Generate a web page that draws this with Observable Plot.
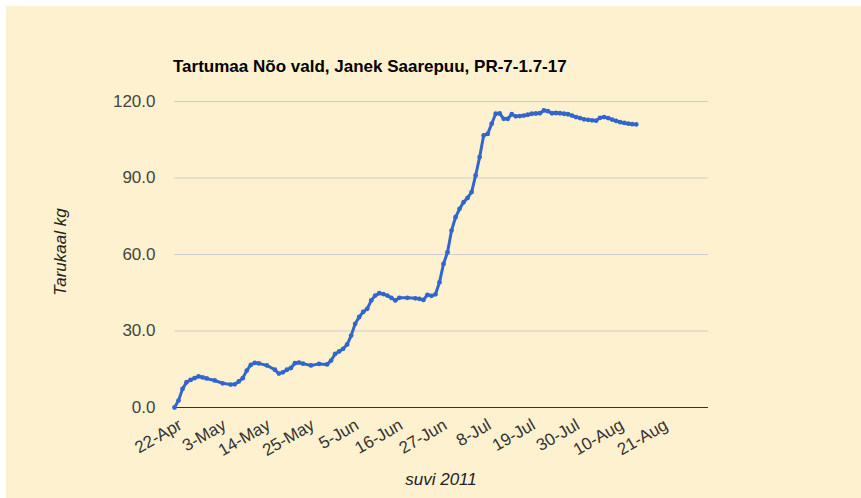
<!DOCTYPE html>
<html><head><meta charset="utf-8">
<script src="https://cdn.jsdelivr.net/npm/d3@7"></script>
<script src="https://cdn.jsdelivr.net/npm/@observablehq/plot@0.6"></script>
<style>
html,body{margin:0;padding:0;background:#fff;}
#chart{position:absolute;left:6px;top:6px;width:855px;height:492px;background:#fef1cf;font-family:"Liberation Sans",Arial,sans-serif;overflow:hidden}
.t{position:absolute;white-space:nowrap;line-height:17px}
#title{left:167px;top:52px;font-size:17px;font-weight:bold;color:#000}
#xlab{left:435px;top:465px;font-size:17px;font-style:italic;color:#222;transform:translateX(-50%)}
#ylab{left:54px;top:246px;font-size:17px;font-style:italic;color:#222;transform:translate(-50%,-50%) rotate(-90deg)}
#plot{position:absolute;left:0;top:0}
</style></head><body>
<div id="chart">
  <div id="plot"></div>
  <div class="t" id="title"></div>
  <div class="t" id="xlab"></div>
  <div class="t" id="ylab"></div>
</div>
<script>
const titleText = "Tartumaa Nõo vald, Janek Saarepuu, PR-7-1.7-17";
const xTitle = "suvi 2011";
const yTitle = "Tarukaal kg";

const dates = ["2011-04-22","2011-04-23","2011-04-24","2011-04-25","2011-04-26","2011-04-27","2011-04-28","2011-04-29","2011-04-30","2011-05-02","2011-05-04","2011-05-06","2011-05-07","2011-05-08","2011-05-09","2011-05-10","2011-05-11","2011-05-12","2011-05-13","2011-05-15","2011-05-17","2011-05-18","2011-05-19","2011-05-20","2011-05-21","2011-05-22","2011-05-23","2011-05-24","2011-05-26","2011-05-28","2011-05-30","2011-05-31","2011-06-01","2011-06-02","2011-06-03","2011-06-04","2011-06-05","2011-06-06","2011-06-07","2011-06-08","2011-06-09","2011-06-10","2011-06-11","2011-06-12","2011-06-13","2011-06-14","2011-06-15","2011-06-16","2011-06-17","2011-06-19","2011-06-21","2011-06-22","2011-06-23","2011-06-24","2011-06-25","2011-06-26","2011-06-27","2011-06-28","2011-06-29","2011-06-30","2011-07-01","2011-07-02","2011-07-03","2011-07-04","2011-07-05","2011-07-06","2011-07-07","2011-07-08","2011-07-09","2011-07-10","2011-07-11","2011-07-12","2011-07-13","2011-07-14","2011-07-15","2011-07-16","2011-07-17","2011-07-18","2011-07-19","2011-07-20","2011-07-21","2011-07-22","2011-07-23","2011-07-24","2011-07-25","2011-07-26","2011-07-27","2011-07-28","2011-07-29","2011-07-30","2011-07-31","2011-08-01","2011-08-02","2011-08-03","2011-08-04","2011-08-05","2011-08-06","2011-08-07","2011-08-08","2011-08-09","2011-08-10","2011-08-11","2011-08-12","2011-08-13","2011-08-14","2011-08-15"];
const weights = [0,2.7,7.3,9.9,10.8,11.5,12.2,11.8,11.4,10.6,9.5,9.0,9.1,10.2,11.5,14.5,16.7,17.5,17.3,16.5,14.8,13.3,13.8,14.8,15.5,17.4,17.6,17.2,16.5,17.1,16.9,18.4,21.0,22.0,23.0,24.7,28.2,32.8,35.5,37.5,38.7,42.0,43.9,44.8,44.5,43.9,43.0,42.0,43.0,43.0,42.8,42.6,42.2,44.2,43.8,44.4,49.1,56.3,60.9,69.4,74.6,77.9,80.5,82.2,84.5,91.0,98.2,106.7,107.3,111.3,115.2,115.3,113.2,113.2,115.0,114.2,114.3,114.5,114.8,115.2,115.3,115.4,116.5,116.2,115.4,115.5,115.4,115.2,115.0,114.5,113.9,113.5,113.0,112.8,112.6,112.5,113.6,113.9,113.5,112.9,112.4,111.9,111.6,111.3,111.1,111.0];

const xTickDates = ["2011-04-22","2011-05-03","2011-05-14","2011-05-25","2011-06-05","2011-06-16","2011-06-27","2011-07-08","2011-07-19","2011-07-30","2011-08-10","2011-08-21"];
const yTicks = [0,30,60,90,120];
const xDomain = ["2011-04-22","2011-09-02"];

const data = dates.map((d,i)=>({date:new Date(d+"T00:00Z"), w:weights[i]}));
const xt = xTickDates.map(d=>new Date(d+"T00:00Z"));
const fmtX = d3.utcFormat("%-d-%b");

document.getElementById("title").textContent = titleText;
document.getElementById("xlab").textContent = xTitle;
document.getElementById("ylab").textContent = yTitle;

const chart = Plot.plot({
  width: 855, height: 492,
  marginLeft: 168, marginRight: 153, marginTop: 95, marginBottom: 91,
  style: {background: "transparent", fontFamily: "'Liberation Sans', Arial, sans-serif", fontSize: "17px", overflow: "visible"},
  x: {type: "utc", domain: xDomain.map(d=>new Date(d+"T00:00Z"))},
  y: {domain: [0,120]},
  marks: [
    Plot.gridY(yTicks, {stroke: "#cccccc", strokeOpacity: 1}),
    Plot.ruleY([0], {stroke: "#333333", strokeWidth: 1}),
    Plot.axisY(yTicks, {tickSize: 0, tickPadding: 19, tickFormat: d3.format(".1f"), fill: "#444", fontSize: 17, label: null}),
    Plot.axisX(xt, {tickSize: 0, tickPadding: 16, tickRotate: -30, tickFormat: fmtX, fill: "#333", fontSize: 17, dx: 6, label: null}),
    Plot.line(data, {x: "date", y: "w", stroke: "#3366cc", strokeWidth: 3}),
    Plot.dot(data, {x: "date", y: "w", r: 2.4, fill: "#3366cc"})
  ]
});
document.getElementById("plot").appendChild(chart);
</script>
</body></html>
